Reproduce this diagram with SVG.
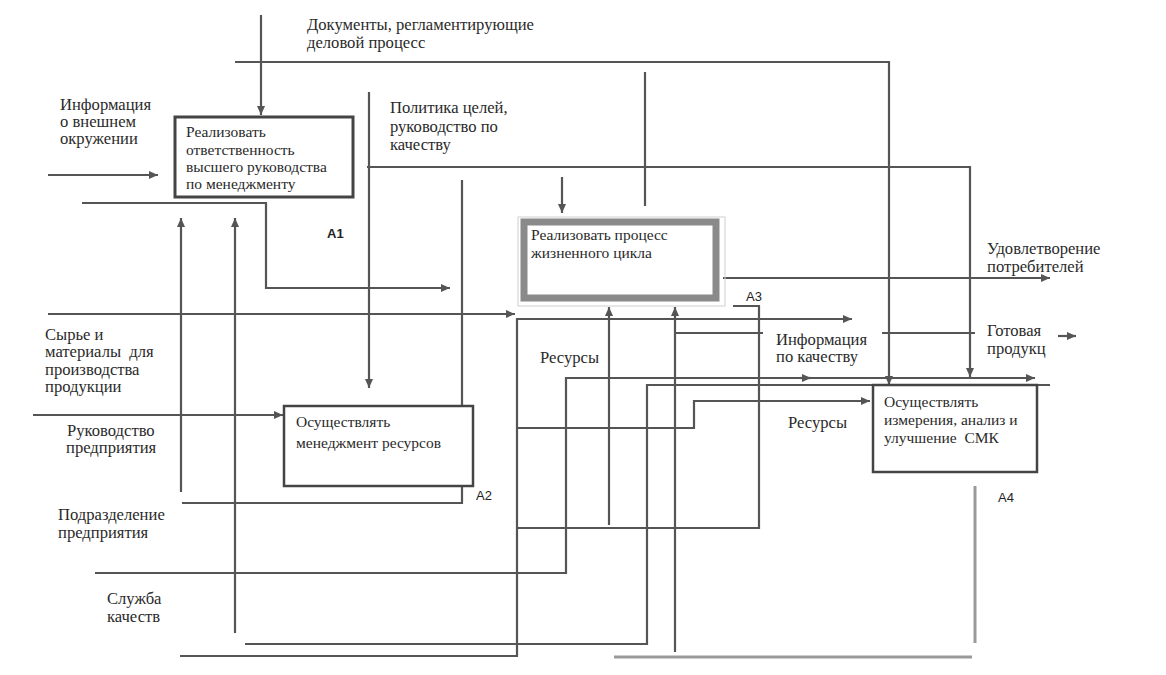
<svg xmlns="http://www.w3.org/2000/svg" width="1166" height="675" viewBox="0 0 1166 675">
<style>
  .ln { fill: none; stroke: #555; stroke-width: 2.2; }
  .gl { fill: none; stroke: #9a9a9a; stroke-width: 3; }
  .lbl { font-family: "Liberation Serif", "Times New Roman", serif; font-size: 16.6px; fill: #2a2a2a; }
  .bt { font-family: "Liberation Serif", "Times New Roman", serif; font-size: 15.5px; fill: #2a2a2a; }
  .id { font-family: "Liberation Sans", "DejaVu Sans", sans-serif; font-size: 13px; fill: #222; }
  .idb { font-family: "Liberation Sans", "DejaVu Sans", sans-serif; font-size: 13px; font-weight: bold; fill: #222; }
  .box { fill: #fff; stroke: #444; }
</style>
<defs>
  <marker id="ah" markerUnits="userSpaceOnUse" markerWidth="10" markerHeight="8" refX="9" refY="4" orient="auto">
    <path d="M0,0 L9,4 L0,8 z" fill="#555"/>
  </marker>
</defs>
<rect width="1166" height="675" fill="#fff"/>

<g id="connectors">
  <path class="ln" d="M261,15 V115" marker-end="url(#ah)"/>
  <path class="ln" d="M235,62 H889 V385" marker-end="url(#ah)"/>
  <path class="ln" d="M48,175 H158" marker-end="url(#ah)"/>
  <path class="ln" d="M82,203 H266 V288 H450" marker-end="url(#ah)"/>
  <path class="ln" d="M181,492 V218" marker-end="url(#ah)"/>
  <path class="ln" d="M235,633 V218" marker-end="url(#ah)"/>
  <path class="ln" d="M369,92 V388" marker-end="url(#ah)"/>
  <path class="ln" d="M367,167 H970 V377" marker-end="url(#ah)"/>
  <path class="ln" d="M645,72 V206"/>
  <path class="ln" d="M562,177 V213" marker-end="url(#ah)"/>
  <path class="ln" d="M462,180 V503 H182"/>
  <path class="ln" d="M462,472 V459" marker-end="url(#ah)"/>
  <path class="ln" d="M462,475 V487" marker-end="url(#ah)"/>
  <path class="ln" d="M48,314 H515" marker-end="url(#ah)"/>
  <path class="ln" d="M33,415 H283" marker-end="url(#ah)"/>
  <path class="ln" d="M723,278 H1050" marker-end="url(#ah)"/>
  <path class="ln" d="M180,656 H517 V319 H852" marker-end="url(#ah)"/>
  <path class="ln" d="M517,528 H759 V306 H733"/>
  <path class="ln" d="M95,573 H566 V378 H1035" marker-end="url(#ah)"/>
  <path class="ln" d="M800,378 H811" marker-end="url(#ah)"/>
  <path class="ln" d="M245,644 H647 V385 H1050"/>
  <path class="ln" d="M517,428 H694 V401 H870" marker-end="url(#ah)"/>
  <path class="ln" d="M609,525 V307" marker-end="url(#ah)"/>
  <path class="ln" d="M675,652 V307" marker-end="url(#ah)"/>
  <path class="ln" d="M676,333 H763"/>
  <path class="ln" d="M882,333 H975"/>
  <path class="ln" d="M1058,336 H1076" marker-end="url(#ah)"/>
  <path class="gl" d="M975,486 V643"/>
  <path class="gl" d="M614,657 H972"/>
</g>

<g id="A1">
  <rect class="box" x="175" y="117" width="178" height="80" stroke-width="3"/>
  <text class="bt" x="186" y="137">Реализовать</text>
  <text class="bt" x="186" y="155">ответственность</text>
  <text class="bt" x="186" y="172">высшего руководства</text>
  <text class="bt" x="186" y="189">по менеджменту</text>
  <text class="idb" x="327" y="238">A1</text>
</g>

<g id="A2">
  <rect class="box" x="284" y="406" width="189" height="80" stroke-width="2.5"/>
  <text class="bt" x="296" y="427">Осуществлять</text>
  <text class="bt" x="296" y="448">менеджмент ресурсов</text>
  <text class="id" x="476" y="500">A2</text>
</g>

<g id="A3">
  <rect x="518" y="217" width="207" height="89" fill="none" stroke="#cfcfcf" stroke-width="1"/>
  <rect x="524" y="222" width="192" height="76" fill="#fff" stroke="#8a8a8a" stroke-width="7"/>
  <text class="bt" x="531" y="240">Реализовать процесс</text>
  <text class="bt" x="531" y="258">жизненного цикла</text>
  <text class="id" x="746" y="301">A3</text>
</g>

<g id="A4">
  <rect class="box" x="873" y="385" width="164" height="87" stroke-width="2.5" fill="none"/>
  <text class="bt" x="884" y="407">Осуществлять</text>
  <text class="bt" x="884" y="425">измерения, анализ и</text>
  <text class="bt" x="884" y="443" xml:space="preserve">улучшение  СМК</text>
  <text class="id" x="998" y="502">A4</text>
</g>

<g id="labels">
  <text class="lbl" x="307" y="30">Документы, регламентирующие</text>
  <text class="lbl" x="307" y="48">деловой процесс</text>
  <text class="lbl" x="60" y="110">Информация</text>
  <text class="lbl" x="60" y="127">о внешнем</text>
  <text class="lbl" x="60" y="144">окружении</text>
  <text class="lbl" x="390" y="113">Политика целей,</text>
  <text class="lbl" x="390" y="132">руководство по</text>
  <text class="lbl" x="390" y="150">качеству</text>
  <text class="lbl" x="987" y="254">Удовлетворение</text>
  <text class="lbl" x="987" y="272">потребителей</text>
  <text class="lbl" x="45" y="340">Сырье и</text>
  <text class="lbl" x="45" y="357" xml:space="preserve">материалы  для</text>
  <text class="lbl" x="45" y="375">производства</text>
  <text class="lbl" x="45" y="392">продукции</text>
  <text class="lbl" x="540" y="363">Ресурсы</text>
  <text class="lbl" x="776" y="345">Информация</text>
  <text class="lbl" x="776" y="362">по качеству</text>
  <text class="lbl" x="987" y="336">Готовая</text>
  <text class="lbl" x="987" y="354">продукц</text>
  <text class="lbl" x="67" y="436">Руководство</text>
  <text class="lbl" x="66" y="453">предприятия</text>
  <text class="lbl" x="788" y="428">Ресурсы</text>
  <text class="lbl" x="58" y="520">Подразделение</text>
  <text class="lbl" x="58" y="538">предприятия</text>
  <text class="lbl" x="107" y="604">Служба</text>
  <text class="lbl" x="107" y="622">качеств</text>
</g>
</svg>
